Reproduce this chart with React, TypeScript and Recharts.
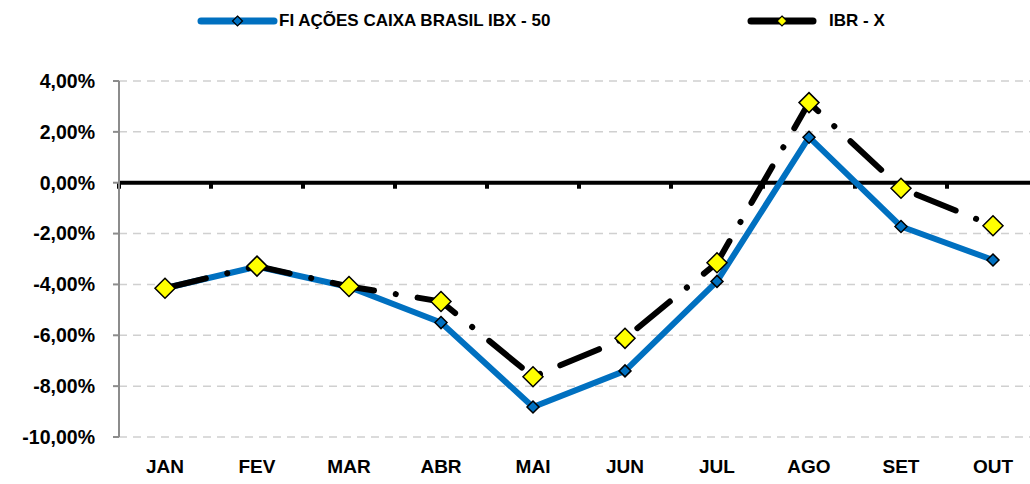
import React from 'react'
import { LineChart, Line, XAxis, YAxis, CartesianGrid, ReferenceLine } from 'recharts'

const months = ['JAN', 'FEV', 'MAR', 'ABR', 'MAI', 'JUN', 'JUL', 'AGO', 'SET', 'OUT']
const fundo = [-4.15, -3.3, -4.1, -5.5, -8.82, -7.4, -3.88, 1.79, -1.72, -3.04]
const ibrx = [-4.15, -3.28, -4.08, -4.67, -7.63, -6.12, -3.15, 3.15, -0.22, -1.69]
const yTicks = [-10, -8, -6, -4, -2, 0, 2, 4]

const FONT = '"Liberation Sans", Arial, sans-serif'

const data = months.map((m, i) => ({ month: m, fundo: fundo[i], ibrx: ibrx[i] }))

const fmt = (v: number) => `${v.toFixed(2).replace('.', ',')}%`

function Diamond({ cx, cy, r, fill }: any) {
  if (cx == null || cy == null) return null
  return (
    <path
      d={`M${cx},${cy - r} L${cx + r},${cy} L${cx},${cy + r} L${cx - r},${cy} Z`}
      fill={fill}
      stroke="#000"
      strokeWidth={1.5}
    />
  )
}

// zero line with small tick marks at the category boundaries
function ZeroLine(props: any) {
  const { x1, x2, y1 } = props
  if (x1 == null) return null
  const n = months.length
  const step = (x2 - x1) / n
  return (
    <g>
      <line x1={x1} x2={x2} y1={y1} y2={y1} stroke="#000" strokeWidth={4} />
      {months.map((_, i) => (
        <rect key={i} x={x1 + step * i - 2} y={y1} width={4} height={6} fill="#000" />
      ))}
    </g>
  )
}

function LegendIcon({ color, markerFill, size, w }: { color: string; markerFill: string; size: number; w: number }) {
  const mid = w / 2
  return (
    <svg width={w} height={14} style={{ display: 'block' }}>
      <line x1={4} x2={w - 4} y1={7} y2={7} stroke={color} strokeWidth={7} strokeLinecap="round" />
      <path
        d={`M${mid},${7 - size} L${mid + size},7 L${mid},${7 + size} L${mid - size},7 Z`}
        fill={markerFill}
        stroke="#000"
        strokeWidth={1.2}
      />
    </svg>
  )
}

export default function App() {
  return (
    <div style={{ position: 'absolute', left: 0, top: 0, width: 1030, height: 484, overflow: 'hidden', background: '#fff' }}>
      <div style={{ position: 'absolute', left: 197, top: 11, display: 'flex', alignItems: 'center', fontFamily: FONT, fontWeight: 700, fontSize: 17 }}>
        <LegendIcon color="#0070C0" markerFill="#0070C0" size={5} w={81} />
        <span style={{ marginLeft: 1 }}>FI AÇÕES CAIXA BRASIL IBX - 50</span>
      </div>
      <div style={{ position: 'absolute', left: 747, top: 11, display: 'flex', alignItems: 'center', fontFamily: FONT, fontWeight: 700, fontSize: 17 }}>
        <LegendIcon color="#000" markerFill="#FFFF00" size={5} w={70} />
        <span style={{ marginLeft: 12 }}>IBR - X</span>
      </div>
      <LineChart width={1040} height={484} data={data} margin={{ top: 81, right: 1, bottom: 7, left: 0 }}>
        <CartesianGrid vertical={false} stroke="#d0d0d0" strokeDasharray="8 6" strokeWidth={1.5} />
        <XAxis
          dataKey="month"
          scale="band"
          axisLine={false}
          tickLine={false}
          tickSize={0}
          tickMargin={23}
          height={40}
          interval={0}
          tick={{ fill: '#000', fontFamily: FONT, fontWeight: 700, fontSize: 19 }}
        />
        <YAxis
          domain={[-10, 4]}
          ticks={yTicks}
          width={119}
          tickFormatter={fmt}
          tickSize={6}
          tickMargin={18}
          axisLine={{ stroke: '#8c8c8c', strokeWidth: 2 }}
          tickLine={{ stroke: '#8c8c8c', strokeWidth: 2 }}
          tick={{ fill: '#000', fontFamily: FONT, fontWeight: 700, fontSize: 19.5 }}
          interval={0}
        />
        <ReferenceLine y={0} shape={<ZeroLine />} />
        <Line
          type="linear"
          dataKey="fundo"
          stroke="#0070C0"
          strokeWidth={6}
          dot={<Diamond r={6} fill="#0070C0" />}
          activeDot={false}
          isAnimationActive={false}
        />
        <Line
          type="linear"
          dataKey="ibrx"
          stroke="#000"
          strokeWidth={6}
          strokeDasharray="42 22 0.1 22"
          strokeLinecap="round"
          dot={<Diamond r={10} fill="#FFFF00" />}
          activeDot={false}
          isAnimationActive={false}
        />
      </LineChart>
    </div>
  )
}
